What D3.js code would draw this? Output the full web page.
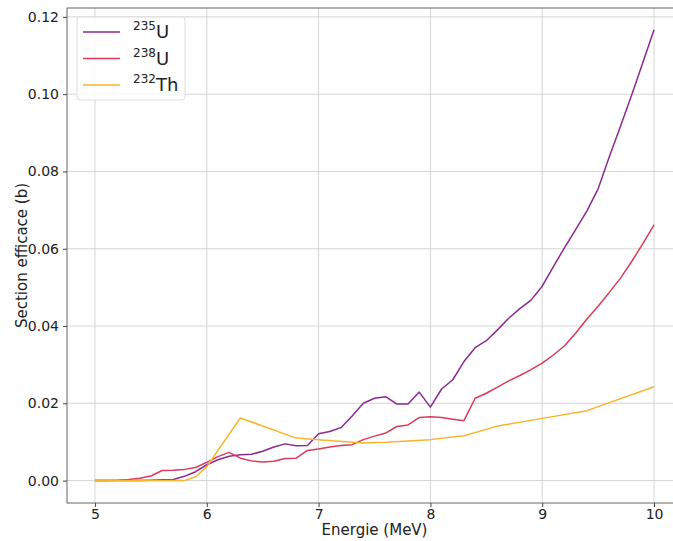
<!DOCTYPE html>
<html><head><meta charset="utf-8">
<script src="https://cdn.jsdelivr.net/npm/d3@7"></script>
<style>
html,body{margin:0;padding:0;background:#fff;}
svg{display:block;font-family:"DejaVu Sans",sans-serif;}
</style></head>
<body><svg id="c" width="673" height="541"></svg>
<script>
const energies = [5.0,5.1,5.2,5.3,5.4,5.5,5.6,5.7,5.8,5.9,6.0,6.1,6.2,6.3,6.4,6.5,6.6,6.7,6.8,6.9,
  7.0,7.1,7.2,7.3,7.4,7.5,7.6,7.7,7.8,7.9,8.0,8.1,8.2,8.3,8.4,8.5,8.6,8.7,8.8,8.9,
  9.0,9.1,9.2,9.3,9.4,9.5,9.6,9.7,9.8,9.9,10.0];
const u235 = [0,0,0,0,0,0.0001,0.0002,0.0003,0.0011,0.0023,0.0041,0.0054,0.0063,0.0067,0.0068,0.0076,0.0087,0.0095,0.0090,0.0091,
  0.0121,0.0127,0.0137,0.0167,0.0200,0.0213,0.0217,0.0198,0.0198,0.0229,0.0190,0.0237,0.0261,0.0308,0.0344,0.0362,0.0390,0.0420,0.0445,0.0467,
  0.0503,0.0554,0.0603,0.0650,0.0698,0.0755,0.0838,0.0917,0.0998,0.1082,0.1167];
const u238 = [0,0,0.0001,0.0003,0.0006,0.0012,0.0026,0.0027,0.0029,0.0034,0.0047,0.0062,0.0073,0.0058,0.0051,0.0048,0.0050,0.0057,0.0058,0.0078,
  0.0082,0.0087,0.0091,0.0093,0.0106,0.0115,0.0123,0.0140,0.0144,0.0163,0.0165,0.0163,0.0159,0.0155,0.0213,0.0226,0.0242,0.0258,0.0272,0.0287,
  0.0304,0.0325,0.0349,0.0382,0.0418,0.0451,0.0487,0.0524,0.0567,0.0613,0.0662];
const thEnergies = [5.0,5.8,5.9,6.0,6.3,6.8,7.0,7.4,7.6,8.0,8.3,8.6,9.0,9.4,10.0];
const th232 = [0,0,0.0010,0.0036,0.0162,0.0110,0.0106,0.0097,0.0099,0.0106,0.0116,0.0141,0.0161,0.0181,0.0243];
const xTicks = [5,6,7,8,9,10];
const yTicks = [0,0.02,0.04,0.06,0.08,0.10,0.12];
const seriesNames = [["235","U"],["238","U"],["232","Th"]];
const colors = ["#8a2a8f","#db3a58","#f7b52c"];

const svg = d3.select("#c");
const L=67,R=682,T=8,B=503;
const x = d3.scaleLinear().domain([4.75,10.25]).range([L,R]);
const y = d3.scaleLinear().domain([-0.0058,0.1223]).range([B,T]);

// grid
svg.append("g").selectAll("line").data(xTicks).join("line")
  .attr("x1",d=>x(d)).attr("x2",d=>x(d)).attr("y1",T).attr("y2",B)
  .attr("stroke","#d0d0d0").attr("stroke-width",0.9);
svg.append("g").selectAll("line").data(yTicks).join("line")
  .attr("x1",L).attr("x2",R).attr("y1",d=>y(d)).attr("y2",d=>y(d))
  .attr("stroke","#d0d0d0").attr("stroke-width",0.9);

// axes
const xa = svg.append("g").attr("transform",`translate(0,${B})`)
  .call(d3.axisBottom(x).tickValues(xTicks).tickFormat(d3.format("d")).tickSize(4).tickPadding(2));
const ya = svg.append("g").attr("transform",`translate(${L},0)`)
  .call(d3.axisLeft(y).tickValues(yTicks).tickFormat(d3.format(".2f")).tickSize(4).tickPadding(4));
[xa,ya].forEach(a=>{
  a.select(".domain").remove();
  a.selectAll("text").attr("font-family","DejaVu Sans").attr("font-size",14).attr("fill","#222");
  a.selectAll("line").attr("stroke","#444");
});
// spines
svg.append("rect").attr("x",L).attr("y",T).attr("width",R-L).attr("height",B-T)
  .attr("fill","none").attr("stroke","#555").attr("stroke-width",0.9);

// lines
const line = d3.line().x(d=>x(d[0])).y(d=>y(d[1]));
const data = [d3.zip(energies,u235), d3.zip(energies,u238), d3.zip(thEnergies,th232)];
data.forEach((d,i)=>{
  svg.append("path").datum(d).attr("d",line).attr("fill","none")
    .attr("stroke",colors[i]).attr("stroke-width",1.5).attr("stroke-linejoin","round");
});

// labels
svg.append("text").attr("x",x(7.5)).attr("y",535).attr("text-anchor","middle")
  .attr("font-size",15).attr("fill","#222").text("Energie (MeV)");
svg.append("text").attr("transform",`translate(27,${(T+B)/2}) rotate(-90)`).attr("text-anchor","middle")
  .attr("font-size",15).attr("fill","#222").text("Section efficace (b)");

// legend
const lg = svg.append("g");
lg.append("rect").attr("x",77).attr("y",17).attr("width",108).attr("height",83).attr("rx",3)
  .attr("fill","#fff").attr("fill-opacity",0.85).attr("stroke","#ddd");
seriesNames.forEach((n,i)=>{
  const cy = 32 + i*26.5;
  lg.append("line").attr("x1",83).attr("x2",120).attr("y1",cy).attr("y2",cy)
    .attr("stroke",colors[i]).attr("stroke-width",1.5);
  const t = lg.append("text").attr("x",133).attr("y",cy+6).attr("fill","#222");
  t.append("tspan").attr("font-size",12).attr("dy",-8).text(n[0]);
  t.append("tspan").attr("font-size",18).attr("dy",8).text(n[1]);
});
</script></body></html>
